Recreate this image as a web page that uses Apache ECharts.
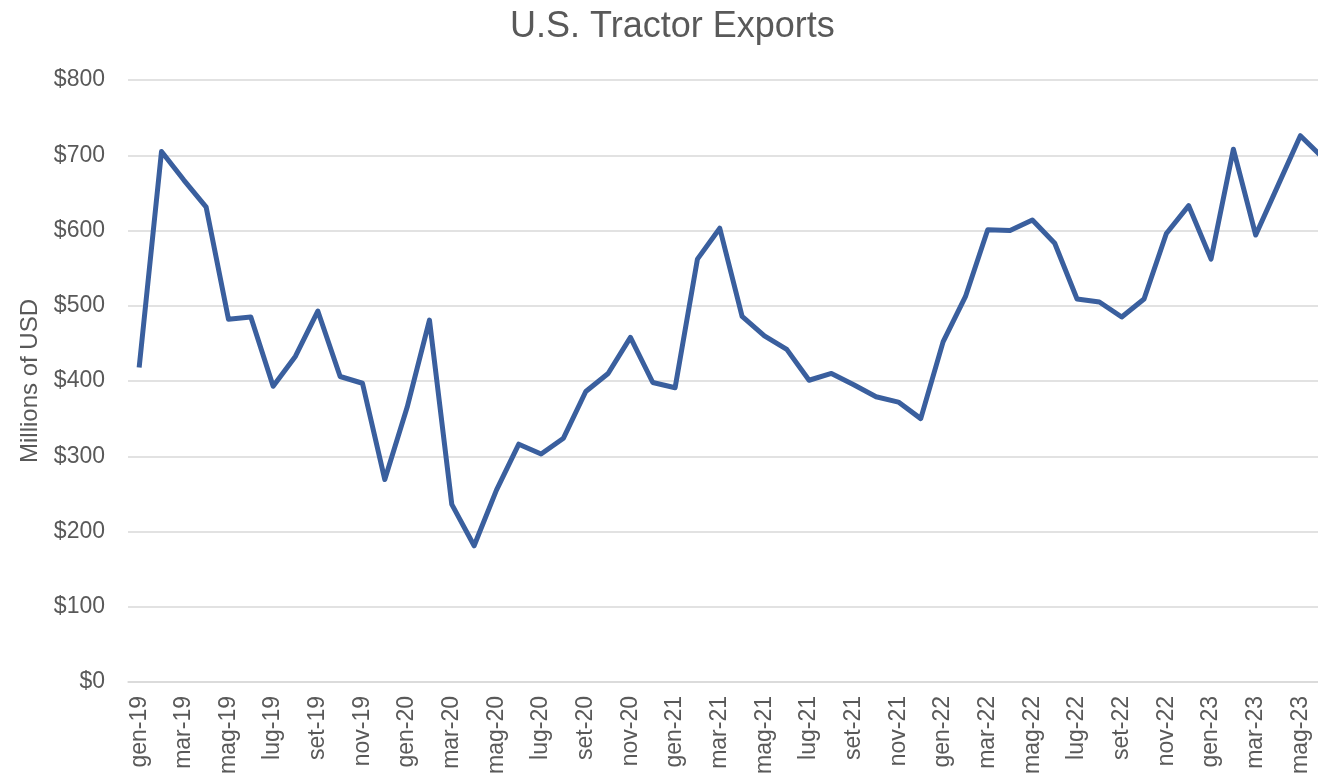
<!DOCTYPE html>
<html>
<head>
<meta charset="utf-8">
<script src="https://cdn.jsdelivr.net/npm/echarts@6/dist/echarts.min.js"></script>
<style>
  html, body { margin: 0; padding: 0; background: #fff; }
  #chart { width: 1318px; height: 778px; }
</style>
</head>
<body>
<div id="chart"></div>
<script>
// mesi in italiano, come nel grafico originale
const monthNames = ['gen', 'feb', 'mar', 'apr', 'mag', 'giu', 'lug', 'ago', 'set', 'ott', 'nov', 'dic']
const years = ['19', '20', '21', '22', '23']
const lastMonthIndex = 5 // giu-23

const months = []
years.forEach((y, yi) => {
  monthNames.forEach((m, mi) => {
    if (yi === years.length - 1 && mi > lastMonthIndex) return
    months.push(m + '-' + y)
  })
})

// Millions of USD
const exports = [
  418, 705, 667, 631, 482, 485, 393, 433, 493, 406, 397, 269,
  365, 481, 236, 181, 255, 316, 303, 324, 386, 410, 458, 398,
  391, 562, 603, 486, 460, 442, 401, 410, 395, 379, 372, 350,
  452, 512, 601, 600, 614, 583, 509, 505, 485, 509, 596, 633,
  562, 708, 594, 660, 726, 697
]

const yTicks = { min: 0, max: 800, interval: 100 }

// una etichetta ogni due mesi
const labelIdx = months.map((m, i) => i).filter(i => i % 2 === 0)

const textColor = '#595959'
const gridColor = '#d9d9d9'

let chart = echarts.init(document.getElementById('chart'))
let option = {
  animation: false,
  title: {
    text: 'U.S. Tractor Exports',
    left: 505,
    top: 4,
    textStyle: {
      color: textColor,
      fontFamily: 'Liberation Sans',
      fontSize: 36,
      fontWeight: 'normal'
    }
  },
  grid: {
    left: 128,
    top: 80,
    right: 0,
    bottom: 96
  },
  xAxis: {
    type: 'value',
    // il grafico originale è tagliato sul bordo destro
    min: -0.5,
    max: 52.79,
    axisLine: { onZero: false, lineStyle: { color: gridColor, width: 1.5 } },
    axisTick: { show: false },
    splitLine: { show: false },
    axisLabel: {
      customValues: labelIdx,
      rotate: 90,
      margin: 14,
      color: textColor,
      fontFamily: 'Liberation Sans',
      fontSize: 23,
      formatter: v => months[v]
    }
  },
  yAxis: {
    type: 'value',
    min: yTicks.min,
    max: yTicks.max,
    interval: yTicks.interval,
    name: 'Millions of USD',
    nameLocation: 'middle',
    nameGap: 86,
    nameTextStyle: {
      color: textColor,
      fontFamily: 'Liberation Sans',
      fontSize: 24
    },
    axisLine: { show: false },
    axisTick: { show: false },
    axisLabel: {
      margin: 23,
      color: textColor,
      fontFamily: 'Liberation Sans',
      fontSize: 23,
      formatter: v => '$' + v
    },
    splitLine: { lineStyle: { color: gridColor, width: 1.5 } }
  },
  series: [{
    name: 'Exports',
    type: 'line',
    data: exports.map((v, i) => [i, v]),
    symbol: 'none',
    clip: true,
    lineStyle: { color: '#3a5f9e', width: 5, join: 'round' }
  }]
}
chart.setOption(option)
</script>
</body>
</html>
